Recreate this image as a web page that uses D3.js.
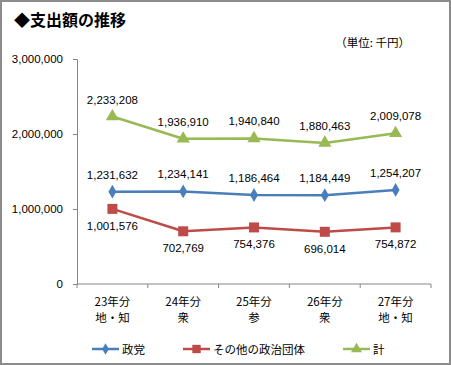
<!DOCTYPE html>
<html><head><meta charset="utf-8">
<script src="https://cdn.jsdelivr.net/npm/d3@7"></script>
<style>
body{margin:0;background:#fff;}
svg{display:block;}
</style></head>
<body>
<svg id="chart" width="451" height="365"></svg>
<script>
const categories = [["23年分","地・知"],["24年分","衆"],["25年分","参"],["26年分","衆"],["27年分","地・知"]];
const seriesNames = ["政党","その他の政治団体","計"];
const seitou = [1231632,1234141,1186464,1184449,1254207];
const sonota = [1001576,702769,754376,696014,754872];
const total = [2233208,1936910,1940840,1880463,2009078];
const yTicks = [0,1000000,2000000,3000000];

const svg = d3.select("#chart");
const W = 451, H = 365;
svg.append("rect").attr("x",1).attr("y",1).attr("width",W-2).attr("height",H-2)
  .attr("fill","#fff").attr("stroke","#8c8c8c").attr("stroke-width",2);

const numFont = "'Liberation Sans', Arial, sans-serif";
const jpFont = "'Noto Sans CJK JP', sans-serif";

svg.append("text").attr("x",14).attr("y",26).text("◆支出額の推移")
  .attr("font-family",jpFont).attr("font-weight","bold").attr("font-size",16).attr("fill","#000");
svg.append("text").attr("x",410).attr("y",47).attr("text-anchor","end").text("（単位: 千円）")
  .attr("font-family",jpFont).attr("font-size",11.5).attr("fill","#000");

const x = d3.scaleBand().domain(d3.range(categories.length)).range([77,431]);
const y = d3.scaleLinear().domain([0,3000000]).range([284,59]);
const fmt = d3.format(",");

// y axis
const yAxis = d3.axisLeft(y).tickValues(yTicks).tickFormat(fmt).tickSize(4).tickPadding(10);
const gy = svg.append("g").attr("transform","translate(77,0)").call(yAxis);
gy.select(".domain").attr("stroke","#868686");
gy.selectAll(".tick line").attr("stroke","#868686");
gy.selectAll("text").attr("font-family",numFont).attr("font-size",11.5).attr("fill","#000");

// x axis
const xAxis = d3.axisBottom(x).tickSize(0).tickFormat("");
const gx = svg.append("g").attr("transform","translate(0,284)").call(xAxis);
gx.select(".domain").attr("stroke","#868686").attr("d","M77,0H431");
const bounds = d3.range(categories.length+1).map(i => 77 + i*x.step());
gx.selectAll(".bt").data(bounds).enter().append("line")
  .attr("x1",d=>d).attr("x2",d=>d).attr("y1",0).attr("y2",4).attr("stroke","#868686");
categories.forEach((c,i) => {
  const cx = x(i)+x.bandwidth()/2;
  c.forEach((t,j) => {
    gx.append("text").attr("x",cx).attr("y",22+j*16).attr("text-anchor","middle").text(t)
      .attr("font-family",jpFont).attr("font-size",11.5).attr("fill","#000");
  });
});

const cxOf = i => x(i)+x.bandwidth()/2;
const line = d3.line().x((d,i)=>cxOf(i)).y(d=>y(d));
const colors = ["#4A7EBB","#BE4B48","#98B954"];
const data = [seitou, sonota, total];
const symbols = [d3.symbolDiamond, d3.symbolSquare, d3.symbolTriangle];
const symSizes = [55, 100, 75];
const labelDy = [-13, 21, -13];

data.forEach((vals,k) => {
  svg.append("path").attr("d",line(vals)).attr("fill","none")
    .attr("stroke",colors[k]).attr("stroke-width",2.5).attr("stroke-linejoin","round");
  vals.forEach((v,i) => {
    svg.append("path").attr("d",d3.symbol(symbols[k],symSizes[k])())
      .attr("transform",`translate(${cxOf(i)},${y(v)})`).attr("fill",colors[k]);
    svg.append("text").attr("x",cxOf(i)).attr("y",y(v)+labelDy[k]).attr("text-anchor","middle")
      .text(fmt(v)).attr("font-family",numFont).attr("font-size",11.5).attr("fill","#000");
  });
});

// legend
const legX = [92, 183, 343];
seriesNames.forEach((n,k) => {
  const g = svg.append("g").attr("transform",`translate(${legX[k]},349)`);
  g.append("line").attr("x1",0).attr("x2",27).attr("stroke",colors[k]).attr("stroke-width",2.5);
  g.append("path").attr("d",d3.symbol(symbols[k],symSizes[k]*0.7)()).attr("transform","translate(13.5,0)").attr("fill",colors[k]);
  g.append("text").attr("x",30).attr("y",4.5).text(n).attr("font-family",jpFont).attr("font-size",11.5).attr("fill","#000");
});
</script>
</body></html>
